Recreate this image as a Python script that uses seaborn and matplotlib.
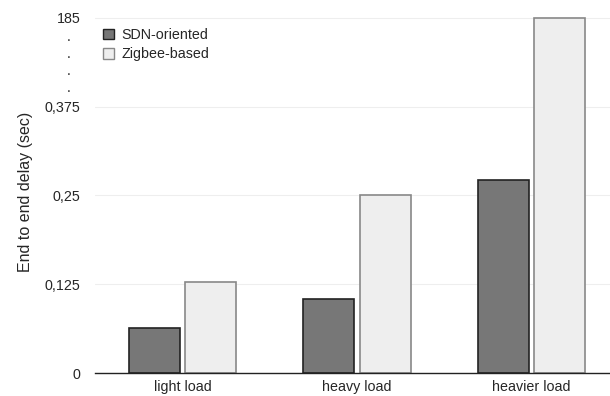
import numpy as np
import pandas as pd
import matplotlib.pyplot as plt
import seaborn as sns

# данные с графика
categories = ['light load', 'heavy load', 'heavier load']
sdn_oriented = [0.064, 0.104, 0.272]
zigbee_based = [0.128, 0.25, 185]
series_names = ['SDN-oriented', 'Zigbee-based']
tick_values = [0, 0.125, 0.25, 0.375, 0.5]
tick_labels = ['0', '0,125', '0,25', '0,375', '185']

# разрыв оси: всё что выше 0.5 рисуем обрезанным
axis_break = 0.5

df = pd.DataFrame({
    'load': categories * 2,
    'series': [series_names[0]] * 3 + [series_names[1]] * 3,
    'delay': sdn_oriented + zigbee_based,
})
df['shown'] = np.minimum(df['delay'], axis_break)

sns.set_style('white')
plt.rcParams['font.family'] = ['Liberation Sans', 'DejaVu Sans']

fs = 10.3
fig = plt.figure(figsize=(6.1, 3.96), dpi=100)
ax = fig.add_axes([0.156, 0.0573, 0.844, 0.916])

sns.barplot(data=df, x='load', y='shown', hue='series',
            palette=['#777777', '#eeeeee'], width=0.65, gap=0.1,
            ax=ax, zorder=2)

for patch in ax.patches:
    fc = patch.get_facecolor()
    if fc[0] < 0.6:
        patch.set_edgecolor('#222222')
    else:
        patch.set_edgecolor('#888888')
    patch.set_linewidth(1.2)

ax.set_ylim(0, 0.51)
ax.set_xlim(-0.5, 2.45)
ax.set_yticks(tick_values)
ax.set_yticklabels(tick_labels)
ax.yaxis.grid(True, color='#eeeeee', linewidth=0.8, zorder=0)
ax.set_axisbelow(True)
ax.tick_params(axis='y', length=0, pad=10.8, labelsize=fs)
ax.tick_params(axis='x', length=0, pad=4.5, labelsize=fs)
ax.set_xlabel('')
ax.set_ylabel('End to end delay (sec)', fontsize=11.5)
ax.yaxis.set_label_coords(-0.12, 0.5)

for s in ['left', 'right', 'top']:
    ax.spines[s].set_visible(False)
ax.spines['bottom'].set_color('#222222')
ax.spines['bottom'].set_linewidth(1.0)

# точки разрыва оси
for yv in [0.467, 0.443, 0.419, 0.396]:
    ax.text(-0.052, yv, '.', transform=ax.get_yaxis_transform(),
            ha='center', va='baseline', fontsize=fs)

leg = ax.legend(loc='upper left', bbox_to_anchor=(0.0045, 0.968), frameon=False,
                fontsize=fs, handlelength=0.75, handleheight=0.75,
                handletextpad=0.55, labelspacing=0.38, borderaxespad=0)
for h in leg.legend_handles:
    h.set_linewidth(1.0)

plt.savefig('out.png', dpi=100)
plt.close()
